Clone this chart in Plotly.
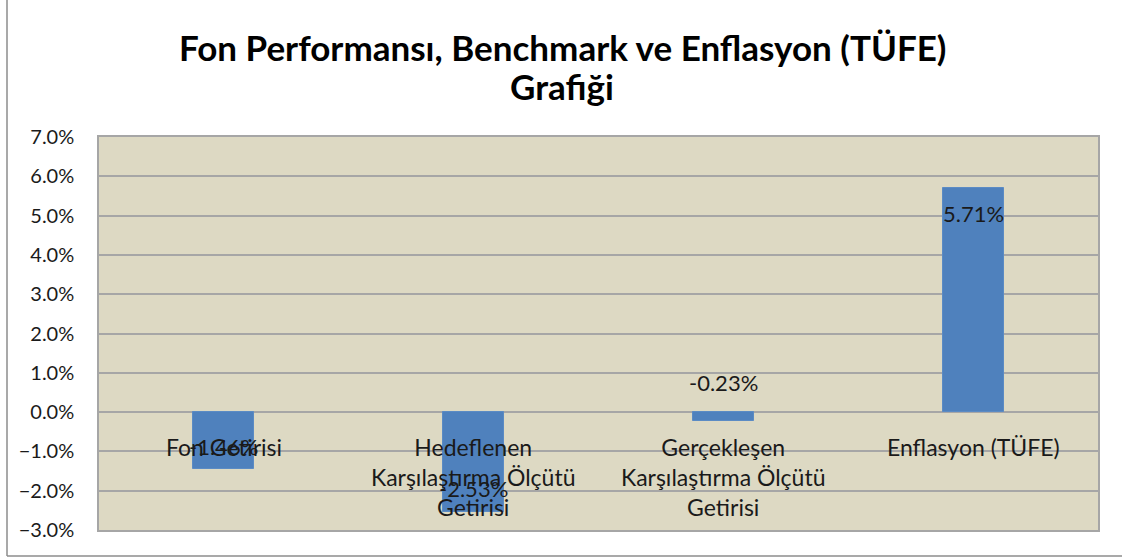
import plotly.graph_objects as go

categories = ["Fon Getirisi", "Hedeflenen<br>Karşılaştırma Ölçütü<br>Getirisi",
              "Gerçekleşen<br>Karşılaştırma Ölçütü<br>Getirisi", "Enflasyon (TÜFE)"]
values = [-0.0146, -0.0253, -0.0023, 0.0571]
value_labels = ["-1.46%", "-2.53%", "-0.23%", "5.71%"]
title_lines = ["Fon Performansı, Benchmark ve Enflasyon (TÜFE)", "Grafiği"]

FONT = "Lato"
TXT = "#1a1a1a"
W, H = 1122, 557
L, R, T, B = 99, 24, 137, 27
ph = H - T - B
pw = W - L - R

fig = go.Figure()
fig.add_trace(go.Bar(
    x=categories, y=values, width=0.245,
    marker=dict(color="#4F81BD", line=dict(color="#5B8BC4", width=1)),
    hoverinfo="skip",
))

annotations = []
# title (two lines)
for line, ypix in zip(title_lines, [47, 86]):
    annotations.append(dict(x=(562 - L) / pw, y=(H - B - ypix) / ph, xref="paper", yref="paper",
                            text="<b>" + line + "</b>", showarrow=False,
                            xanchor="center", yanchor="middle",
                            font=dict(family=FONT, size=35, color="#000000")))
# category labels placed at the zero line
for c in categories:
    annotations.append(dict(x=c, y=0, xref="x", yref="y", text=c, showarrow=False,
                            yanchor="top", yshift=-19, align="center",
                            font=dict(family=FONT, size=23, color=TXT)))
# data labels
for c, v, t in zip(categories, values, value_labels):
    if abs(v) < 0.005:
        annotations.append(dict(x=c, y=0, xref="x", yref="y", text=t, showarrow=False,
                                yanchor="middle", yshift=30,
                                font=dict(family=FONT, size=22, color=TXT)))
    elif v < 0:
        annotations.append(dict(x=c, y=v, xref="x", yref="y", text=t, showarrow=False,
                                yanchor="middle", yshift=23,
                                font=dict(family=FONT, size=22, color=TXT)))
    else:
        annotations.append(dict(x=c, y=v, xref="x", yref="y", text=t, showarrow=False,
                                yanchor="middle", yshift=-26,
                                font=dict(family=FONT, size=22, color=TXT)))

shapes = [
    dict(type="line", xref="paper", yref="paper",
         x0=(7 - L) / pw, x1=(7 - L) / pw, y0=(H - B - 556) / ph, y1=(H - B) / ph + 0.1,
         line=dict(color="#8c8c8c", width=1.5)),
    dict(type="line", xref="paper", yref="paper",
         x0=(7 - L) / pw, x1=(W - L) / pw + 0.01, y0=(H - B - 556) / ph, y1=(H - B - 556) / ph,
         line=dict(color="#8c8c8c", width=1.5)),
]

fig.update_layout(
    width=W, height=H,
    margin=dict(l=L, r=R, t=T, b=B),
    paper_bgcolor="white",
    plot_bgcolor="#DDD9C3",
    showlegend=False,
    bargap=0.0,
    xaxis=dict(showticklabels=False, showgrid=False, zeroline=False,
               showline=True, mirror=True, linecolor="#a6a6a6", linewidth=1.5,
               ticks=""),
    yaxis=dict(range=[-0.03, 0.07], dtick=0.01, tick0=0, tickformat=".1%",
               showgrid=True, gridcolor="#a6a6a6", gridwidth=1.5,
               zeroline=True, zerolinecolor="#a6a6a6", zerolinewidth=1.5,
               showline=True, mirror=True, linecolor="#a6a6a6", linewidth=1.5,
               ticks="", ticklabelstandoff=19,
               tickfont=dict(family=FONT, size=20, color=TXT)),
    annotations=annotations,
    shapes=shapes,
)

fig.write_html("out.html", config={"displayModeBar": False},
               post_script="document.body.style.margin='0px';")
